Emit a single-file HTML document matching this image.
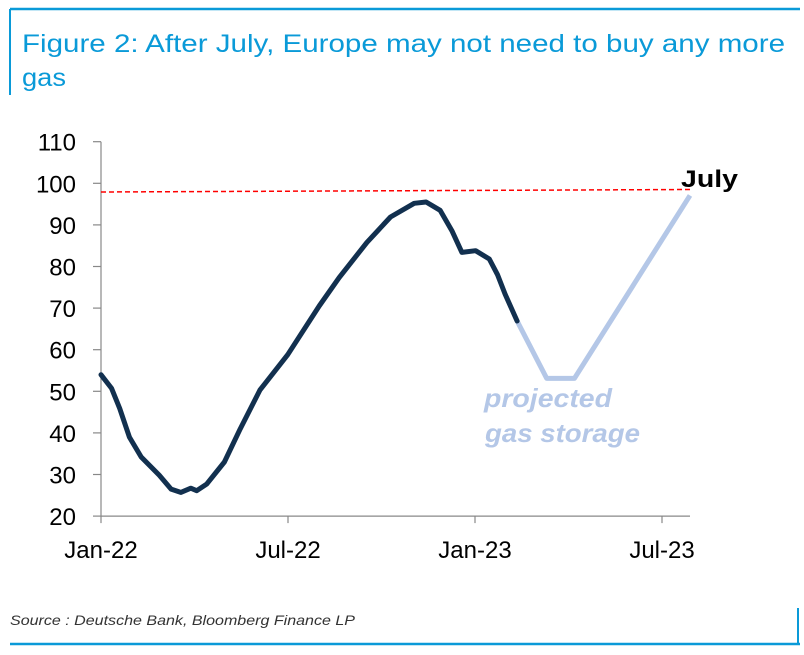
<!DOCTYPE html>
<html><head><meta charset="utf-8"><style>
html,body{margin:0;padding:0;background:#fff;}
svg{display:block;font-family:"Liberation Sans",Arial,sans-serif;}
</style></head><body>
<svg id="chart" width="804" height="655" viewBox="0 0 804 655">
<line x1="10" y1="9" x2="800" y2="9" stroke="#0a9ad8" stroke-width="2.5"/>
<line x1="10" y1="9" x2="10" y2="95" stroke="#0a9ad8" stroke-width="2"/>
<text x="22" y="52" font-size="25" fill="#0a9ad8" textLength="763" lengthAdjust="spacingAndGlyphs">Figure 2: After July, Europe may not need to buy any more</text>
<text x="22" y="86" font-size="25" fill="#0a9ad8" textLength="44" lengthAdjust="spacingAndGlyphs">gas</text>
<g id="axes"></g>
<g id="marks"></g>
<text x="484" y="407" font-size="26" font-weight="bold" font-style="italic" fill="#b4c7e7" textLength="128" lengthAdjust="spacingAndGlyphs">projected</text>
<text x="485" y="442" font-size="26" font-weight="bold" font-style="italic" fill="#b4c7e7" textLength="155" lengthAdjust="spacingAndGlyphs">gas storage</text>
<text x="681" y="187" font-size="24" font-weight="bold" fill="#000" textLength="57" lengthAdjust="spacingAndGlyphs">July</text>
<text x="10" y="625" font-size="14" font-style="italic" fill="#333" textLength="345" lengthAdjust="spacingAndGlyphs">Source : Deutsche Bank, Bloomberg Finance LP</text>
<line x1="10" y1="644" x2="800" y2="644" stroke="#0a9ad8" stroke-width="2.5"/>
<line x1="798" y1="608" x2="798" y2="644" stroke="#0a9ad8" stroke-width="2"/>
</svg>
<script>
const yTicks=[20,30,40,50,60,70,80,90,100,110];
const xTickMonths=[0,6,12,18];
const xTickLabels=["Jan-22","Jul-22","Jan-23","Jul-23"];
const actualMonths=[0,0.34,0.6,0.91,1.29,1.87,2.25,2.56,2.88,3.07,3.39,3.96,4.47,5.1,5.99,7.0,7.64,8.53,9.29,10.05,10.43,10.88,11.26,11.58,12.02,12.46,12.72,12.97,13.35];
const actualValues=[54,50.7,45.9,39,34.2,29.8,26.5,25.7,26.7,26.1,27.7,33,41,50.3,58.8,70.5,77.3,85.8,91.9,95.2,95.5,93.5,88.6,83.4,83.8,81.8,78.1,73.3,66.9];
const projMonths=[13.35,14.3,15.19,18.9];
const projValues=[66.9,53.1,53.1,97.1];
const targetMonths=[0,18.9];
const targetValues=[97.9,98.5];

const NS="http://www.w3.org/2000/svg";
const X0=101,MPX=(662-101)/18,XEND=690;
const x=m=>X0+m*MPX;
const y=v=>141.7+(110-v)*4.16;
function mk(tag,attrs,parent){const e=document.createElementNS(NS,tag);for(const k in attrs)e.setAttribute(k,attrs[k]);parent.appendChild(e);return e;}
const axes=document.getElementById('axes'),marks=document.getElementById('marks');

let a=mk('line',{x1:X0,y1:y(110),x2:X0,y2:y(20),stroke:'#888','stroke-width':1.2},axes);


a=mk('line',{x1:X0,y1:y(20),x2:XEND,y2:y(20),stroke:'#888','stroke-width':1.2},axes);


yTicks.forEach(v=>{
  const t=mk('line',{x1:X0-8,y1:y(v),x2:X0,y2:y(v),stroke:'#888','stroke-width':1.2},axes);
  
  
  const l=mk('text',{x:76,y:y(v)+9,'font-size':24,'text-anchor':'end',fill:'#000'},axes);
  l.textContent=v;
  
  
});
xTickMonths.forEach((m,i)=>{
  const t=mk('line',{x1:x(m),y1:y(20),x2:x(m),y2:y(20)+7,stroke:'#888','stroke-width':1.2},axes);
  
  
  const l=mk('text',{x:x(m),y:y(20)+42,'font-size':24,'text-anchor':'middle',fill:'#000'},axes);
  l.textContent=xTickLabels[i];
  
  
});
const pts=(ms,vs)=>ms.map((m,i)=>x(m).toFixed(1)+','+y(vs[i]).toFixed(1)).join(' ');
let p=mk('polyline',{points:pts(targetMonths,targetValues),fill:'none',stroke:'#ff0000','stroke-width':1.5,'stroke-dasharray':'5,3'},marks);


p=mk('polyline',{points:pts(projMonths,projValues),fill:'none',stroke:'#b4c7e7','stroke-width':5,'stroke-linejoin':'round'},marks);


p=mk('polyline',{points:pts(actualMonths,actualValues),fill:'none',stroke:'#12304f','stroke-width':5,'stroke-linejoin':'round','stroke-linecap':'round'},marks);


</script>
</body></html>
